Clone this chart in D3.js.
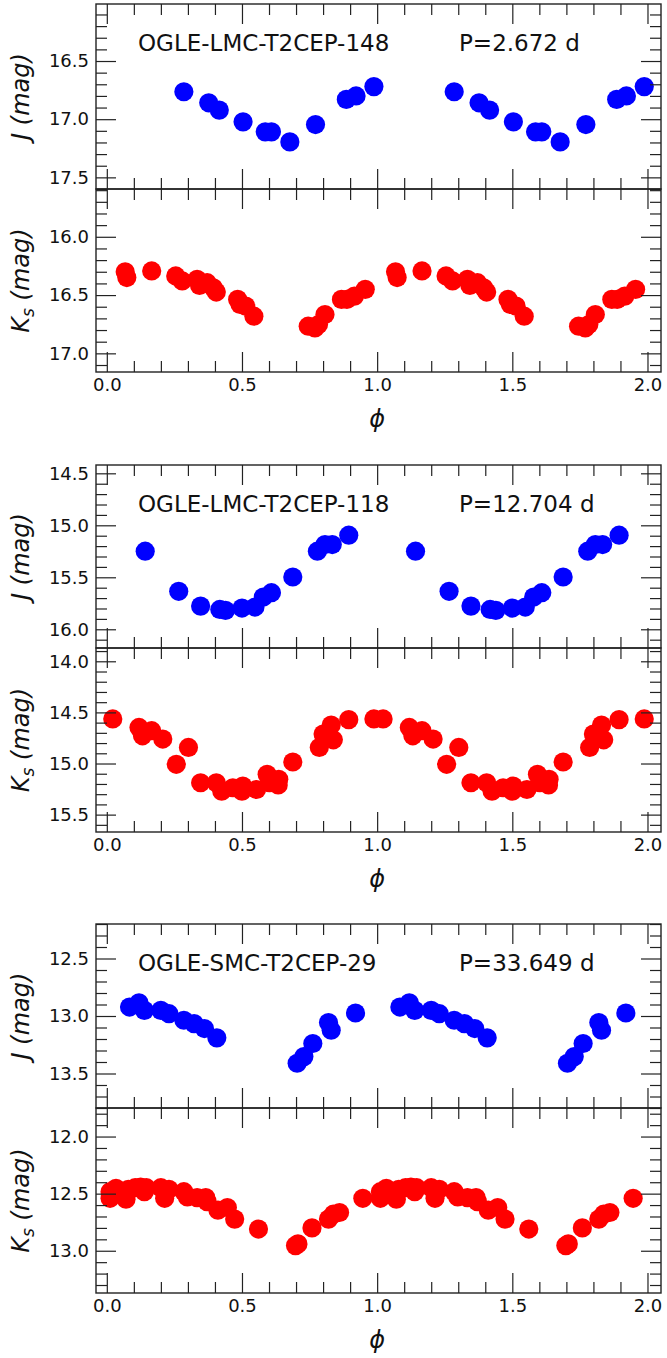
<!DOCTYPE html>
<html><head><meta charset="utf-8">
<script src="https://cdn.jsdelivr.net/npm/d3@7"></script>
<style>body{margin:0;background:#fff}svg{display:block}</style>
</head><body><svg id="c" width="667" height="1358"></svg>
<script>
// ---------------- data ----------------
const starNames = ["OGLE-LMC-T2CEP-148", "OGLE-LMC-T2CEP-118", "OGLE-SMC-T2CEP-29"];
const periodLabels = ["P=2.672 d", "P=12.704 d", "P=33.649 d"];
const xTickValues = [0.0, 0.5, 1.0, 1.5, 2.0];
const xTickLabels = ["0.0", "0.5", "1.0", "1.5", "2.0"];

const j148Phase = [0.285,0.377,0.416,0.504,0.586,0.609,0.677,0.772,0.886,0.922,0.988];
const j148Mag   = [16.764,16.859,16.922,17.023,17.109,17.109,17.195,17.046,16.830,16.800,16.720];

const k148Phase = [0.068,0.074,0.166,0.255,0.279,0.334,0.343,0.371,0.394,0.405,0.484,0.493,0.514,0.544,0.745,0.770,0.783,0.807,0.868,0.888,0.916,0.956];
const k148Mag   = [16.300,16.350,16.293,16.336,16.379,16.365,16.417,16.394,16.437,16.474,16.537,16.580,16.595,16.681,16.767,16.782,16.753,16.667,16.537,16.537,16.509,16.451];

const j118Phase = [0.142,0.266,0.347,0.418,0.439,0.500,0.548,0.579,0.609,0.688,0.779,0.807,0.834,0.895];
const j118Mag   = [15.249,15.635,15.777,15.809,15.818,15.796,15.786,15.690,15.648,15.497,15.249,15.185,15.185,15.095];

const k118Phase = [0.022,0.119,0.132,0.166,0.207,0.257,0.302,0.347,0.405,0.425,0.466,0.500,0.503,0.554,0.593,0.602,0.634,0.636,0.688,0.786,0.800,0.830,0.838,0.895,0.988];
const k118Mag   = [14.564,14.647,14.729,14.679,14.761,15.008,14.843,15.188,15.188,15.270,15.237,15.270,15.220,15.254,15.106,15.188,15.210,15.155,14.985,14.843,14.712,14.624,14.768,14.571,14.564];

const j29Phase = [0.084,0.119,0.139,0.200,0.230,0.285,0.323,0.361,0.407,0.704,0.729,0.762,0.820,0.830,0.920];
const j29Mag   = [12.922,12.885,12.951,12.951,12.980,13.037,13.066,13.109,13.190,13.411,13.353,13.239,13.057,13.124,12.974];

const k29Phase = [0.012,0.012,0.034,0.071,0.080,0.105,0.125,0.139,0.146,0.200,0.214,0.230,0.285,0.298,0.334,0.366,0.371,0.411,0.446,0.473,0.561,0.698,0.707,0.759,0.820,0.838,0.861,0.947];
const k29Mag   = [12.483,12.541,12.454,12.549,12.462,12.448,12.442,12.483,12.448,12.448,12.541,12.462,12.483,12.529,12.535,12.535,12.570,12.645,12.622,12.723,12.810,12.955,12.940,12.800,12.723,12.680,12.665,12.541];

// y-axis ranges per panel (magnitude, inverted)
const yRanges = [[16.01,17.60],[15.59,17.16],[14.42,16.18],[13.87,15.67],[12.20,13.80],[11.75,13.37]];
const xRange = [-0.04, 2.05];

// ---------------- layout ----------------
const svg = d3.select("#c");
const L = 96, R = 661;
const panels = [
  {top:4,   bot:189,  band:"J", phase:j148Phase, mag:j148Mag, color:"#0000ff", star:0},
  {top:189, bot:372,  band:"K", phase:k148Phase, mag:k148Mag, color:"#ff0000", star:0},
  {top:465, bot:648,  band:"J", phase:j118Phase, mag:j118Mag, color:"#0000ff", star:1},
  {top:648, bot:832,  band:"K", phase:k118Phase, mag:k118Mag, color:"#ff0000", star:1},
  {top:924, bot:1108, band:"J", phase:j29Phase,  mag:j29Mag,  color:"#0000ff", star:2},
  {top:1108,bot:1293, band:"K", phase:k29Phase,  mag:k29Mag,  color:"#ff0000", star:2}
];
const FONT = "DejaVu Sans, sans-serif";
const x = d3.scaleLinear().domain(xRange).range([L, R]);
const majorLen = 20, minorLen = 11, tickCol = "#222";

function rng(lo, hi, step10, skipMajor) {
  const out = [];
  for (let k = Math.ceil(lo*10 - 1e-6); k <= Math.floor(hi*10 + 1e-6); k++) {
    if (k % step10 === 0) { if (!skipMajor) out.push(k/10); }
    else if (skipMajor) out.push(k/10);
  }
  return out;
}
function majors(lo, hi) {
  const out = [];
  for (let k = Math.ceil(lo*2 - 1e-6); k <= Math.floor(hi*2 + 1e-6); k++) out.push(k/2);
  return out;
}

panels.forEach((p, i) => {
  const y = d3.scaleLinear().domain(yRanges[i]).range([p.top, p.bot]);
  const g = svg.append("g");
  // points (phase and phase+1)
  const pts = p.phase.map((ph, j) => ({ph, m: p.mag[j]}));
  const all = pts.concat(pts.map(d => ({ph: d.ph + 1, m: d.m})));
  g.append("g").selectAll("circle").data(all).join("circle")
    .attr("cx", d => x(d.ph)).attr("cy", d => y(d.m)).attr("r", 9.6)
    .attr("fill", p.color);

  const yMaj = majors(yRanges[i][0], yRanges[i][1]);
  const yMin = rng(yRanges[i][0], yRanges[i][1], 5, true);
  const xMin = rng(xRange[0], xRange[1], 5, true);
  const isBottom = p.band === "K";

  function ax(gen, transform) {
    const a = g.append("g").attr("transform", transform).call(gen);
    a.select(".domain").remove();
    a.selectAll("line").attr("stroke", tickCol).attr("stroke-width", 1.2);
    a.selectAll("text").attr("font-family", FONT).attr("font-size", 18).attr("fill", "#111");
    return a;
  }
  // left
  ax(d3.axisLeft(y).tickValues(yMaj).tickSizeInner(-majorLen).tickSizeOuter(0).tickPadding(7).tickFormat(d3.format(".1f")), `translate(${L},0)`);
  ax(d3.axisLeft(y).tickValues(yMin).tickSizeInner(-minorLen).tickSizeOuter(0).tickFormat(""), `translate(${L},0)`);
  // right
  ax(d3.axisRight(y).tickValues(yMaj).tickSizeInner(-majorLen).tickSizeOuter(0).tickFormat(""), `translate(${R},0)`);
  ax(d3.axisRight(y).tickValues(yMin).tickSizeInner(-minorLen).tickSizeOuter(0).tickFormat(""), `translate(${R},0)`);
  // top
  ax(d3.axisTop(x).tickValues(xTickValues).tickSizeInner(-majorLen).tickSizeOuter(0).tickFormat(""), `translate(0,${p.top})`);
  ax(d3.axisTop(x).tickValues(xMin).tickSizeInner(-minorLen).tickSizeOuter(0).tickFormat(""), `translate(0,${p.top})`);
  // bottom
  ax(d3.axisBottom(x).tickValues(xTickValues).tickSizeInner(-majorLen).tickSizeOuter(0).tickPadding(6)
      .tickFormat((d, k) => isBottom ? xTickLabels[k] : ""), `translate(0,${p.bot})`);
  ax(d3.axisBottom(x).tickValues(xMin).tickSizeInner(-minorLen).tickSizeOuter(0).tickFormat(""), `translate(0,${p.bot})`);

  // frame
  g.append("rect").attr("x", L).attr("y", p.top).attr("width", R - L).attr("height", p.bot - p.top)
    .attr("fill", "none").attr("stroke", "#222").attr("stroke-width", 1.4);

  // y label
  const cy = (p.top + p.bot) / 2;
  const yl = g.append("text").attr("transform", `translate(29,${cy}) rotate(-90)`)
    .attr("text-anchor", "middle").attr("font-family", FONT).attr("font-size", 24)
    .attr("font-style", "italic").attr("fill", "#111");
  if (p.band === "J") {
    yl.text("J (mag)");
  } else {
    yl.append("tspan").text("K");
    yl.append("tspan").attr("font-size", 17).attr("dy", 5).text("s");
    yl.append("tspan").attr("dy", -5).text(" (mag)");
  }

  if (p.band === "J") {
    g.append("text").attr("x", 138).attr("y", p.top + 47).attr("font-family", FONT)
      .attr("font-size", 23).attr("fill", "#111").text(starNames[p.star]);
    g.append("text").attr("x", 459).attr("y", p.top + 47).attr("font-family", FONT)
      .attr("font-size", 23).attr("fill", "#111").text(periodLabels[p.star]);
  } else {
    g.append("text").attr("x", x(1.0)).attr("y", p.bot + 55).attr("text-anchor", "middle")
      .attr("font-family", FONT).attr("font-size", 24).attr("font-style", "italic")
      .attr("fill", "#111").text("ϕ");
  }
});
</script></body></html>
